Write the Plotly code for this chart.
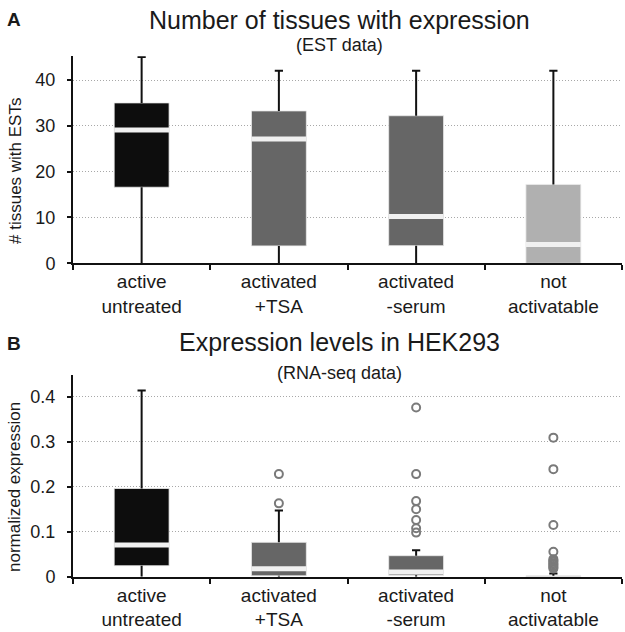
import plotly.graph_objects as go

# ---------------- data ----------------
categories = ["active<br>untreated", "activated<br>+TSA", "activated<br>-serum", "not<br>activatable"]
box_colors = ["#0d0d0d", "#666666", "#666666", "#b0b0b0"]

# Panel A: number of tissues with ESTs
est_lower = [0, 0, 0, 0]
est_q1 = [16.6, 3.8, 3.85, 0.0]
est_median = [29.1, 27.1, 10.2, 4.1]
est_q3 = [35.0, 33.25, 32.2, 17.2]
est_upper = [45.0, 42.0, 42.0, 42.0]
est_outliers = [[], [], [], []]

# Panel B: normalized expression (RNA-seq)
rna_lower = [0.0, 0.0, 0.0, 0.0]
rna_q1 = [0.0244, 0.002, 0.003, 0.0]
rna_median = [0.0704, 0.0178, 0.0104, 0.001]
rna_q3 = [0.196, 0.0764, 0.0467, 0.002]
rna_upper = [0.414, 0.147, 0.0587, 0.007]
rna_outliers = [
    [],
    [0.228, 0.163],
    [0.376, 0.228, 0.168, 0.150, 0.126, 0.1075, 0.098],
    [0.309, 0.239, 0.115, 0.0556, 0.039, 0.036, 0.033, 0.030, 0.027, 0.024, 0.021, 0.018],
]

est_ticks = [0, 10, 20, 30, 40]
rna_ticks = [0, 0.1, 0.2, 0.3, 0.4]
rna_ticktext = ["0", "0.1", "0.2", "0.3", "0.4"]

# ---------------- layout helpers ----------------
W, H = 625, 632
L, R = 73, 3
FONT = "Liberation Sans, Arial, Helvetica, sans-serif"
TXT = "#1a1a1a"


def px_x(p):
    return (p - L) / (W - L - R)


def px_y(p):
    return (H - p) / H


BOX_W = 0.4
CAP = 0.03
BAND_PX = 5

fig = go.Figure()


def add_panel(xa, ya, lower, q1, med, q3, upper, outliers, ppu):
    idx = list(range(len(categories)))
    # whiskers
    wx, wy = [], []
    for i in idx:
        wx += [i, i, None, i, i, None, i - CAP, i + CAP, None]
        wy += [q3[i], upper[i], None, lower[i], q1[i], None, upper[i], upper[i], None]
    fig.add_trace(go.Scatter(x=wx, y=wy, mode="lines", line=dict(color="#111111", width=2),
                             xaxis=xa, yaxis=ya, hoverinfo="skip", showlegend=False))
    # boxes
    fig.add_trace(go.Bar(x=idx, base=q1, y=[q3[i] - q1[i] for i in idx], width=BOX_W,
                         marker=dict(color=box_colors, line=dict(color="rgba(235,235,235,0.8)", width=1)),
                         xaxis=xa, yaxis=ya, showlegend=False))
    # medians (a light band; not drawn when the box is thinner than the band)
    mx, my = [], []
    for i in idx:
        if (q3[i] - q1[i]) * ppu < BAND_PX:
            continue
        mx += [i - BOX_W / 2, i + BOX_W / 2, None]
        my += [med[i], med[i], None]
    fig.add_trace(go.Scatter(x=mx, y=my, mode="lines", line=dict(color="#f0f0f0", width=5),
                             xaxis=xa, yaxis=ya, hoverinfo="skip", showlegend=False))
    # outliers
    ox, oy = [], []
    for i in idx:
        for v in outliers[i]:
            ox.append(i)
            oy.append(v)
    if ox:
        fig.add_trace(go.Scatter(x=ox, y=oy, mode="markers",
                                 marker=dict(symbol="circle-open", size=8, color="#7a7a7a",
                                             line=dict(width=2, color="#7a7a7a")),
                                 xaxis=xa, yaxis=ya, showlegend=False))


# top panel: 0 at 263.3px, 4.5825 px per unit
top_ppu = 4.5825
top_max = 45.2
# bottom panel: 0 at 576.7px, 450 px per unit
bot_ppu = 450.0
bot_max = 0.448

add_panel("x", "y", est_lower, est_q1, est_median, est_q3, est_upper, est_outliers, top_ppu)
add_panel("x2", "y2", rna_lower, rna_q1, rna_median, rna_q3, rna_upper, rna_outliers, bot_ppu)

xcommon = dict(
    range=[-0.5, 3.5], domain=[0, 1], automargin=False,
    tickvals=[0, 1, 2, 3], ticktext=categories, ticks="", ticklen=0,
    showline=True, linecolor="#111111", linewidth=2, showgrid=False, zeroline=False,
    tickfont=dict(family=FONT, size=19, color=TXT),
    minor=dict(tickvals=[-0.5, 0.5, 1.5, 2.5, 3.5], ticks="outside", ticklen=5,
               tickwidth=2, tickcolor="#111111", showgrid=False),
    fixedrange=True,
)
ycommon = dict(
    automargin=False,
    showline=True, linecolor="#111111", linewidth=2, ticks="outside", ticklen=4,
    tickwidth=2, tickcolor="#111111", showgrid=True, gridcolor="#a8a8a8",
    griddash="1px,2px", gridwidth=1, zeroline=False, ticklabelstandoff=8,
    tickfont=dict(family=FONT, size=18, color=TXT), fixedrange=True,
)

fig.update_layout(
    width=W, height=H,
    margin=dict(l=L, r=R, t=0, b=0, autoexpand=False),
    paper_bgcolor="white", plot_bgcolor="white",
    barmode="overlay", showlegend=False,
    font=dict(family=FONT, color=TXT),
    xaxis=dict(anchor="y", **xcommon),
    xaxis2=dict(anchor="y2", **xcommon),
    yaxis=dict(anchor="x", domain=[px_y(263.3), px_y(263.3 - top_max * top_ppu)],
               range=[0, top_max], tickvals=est_ticks, **ycommon),
    yaxis2=dict(anchor="x2", domain=[px_y(576.7), px_y(576.7 - bot_max * bot_ppu)],
                range=[0, bot_max], tickvals=rna_ticks, ticktext=rna_ticktext, **ycommon),
)


def ann(text, xp, yp, size, bold=False, angle=0):
    fig.add_annotation(text=("<b>%s</b>" % text) if bold else text,
                       x=px_x(xp), y=px_y(yp), xref="paper", yref="paper",
                       xanchor="center", yanchor="middle", showarrow=False,
                       textangle=angle, font=dict(family=FONT, size=size, color=TXT))


ann("A", 14, 20, 19, bold=True)
ann("Number of tissues with expression", 339, 20, 25)
ann("(EST data)", 339, 45, 18)
ann("# tissues with ESTs", 15, 171, 17, angle=-90)

ann("B", 14, 343, 19, bold=True)
ann("Expression levels in HEK293", 339, 342, 25)
ann("(RNA-seq data)", 339, 373, 18)
ann("normalized expression", 14, 487, 17, angle=-90)

fig.write_html("out.html", config={"displayModeBar": False},
               post_script="document.body.style.margin='0';")
